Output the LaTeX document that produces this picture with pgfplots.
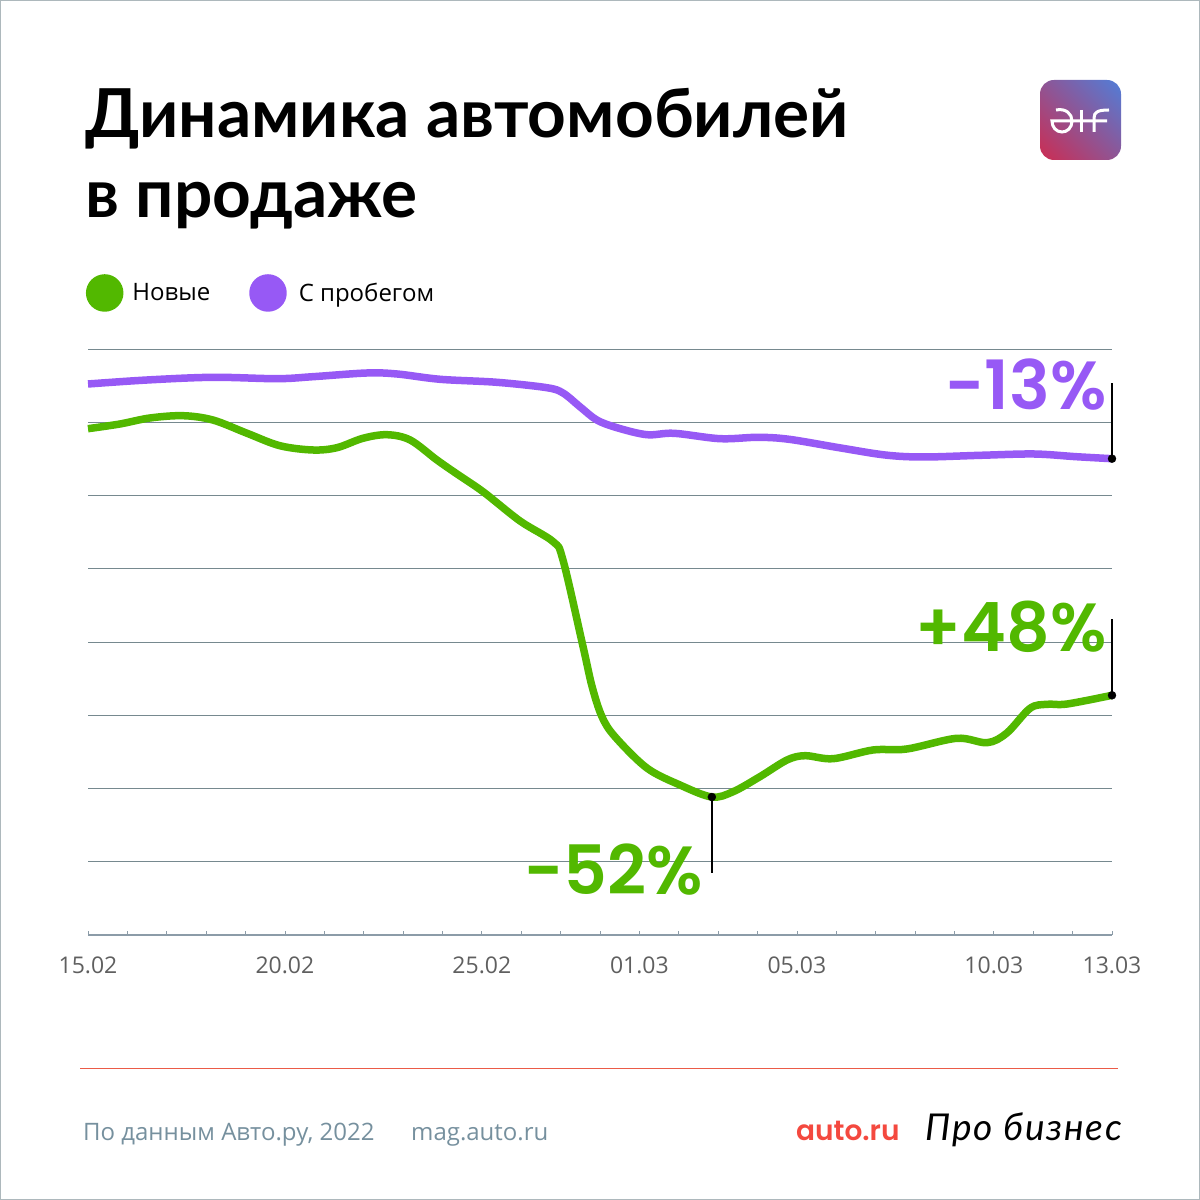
\documentclass[border=0pt]{standalone}
\usepackage{fontspec}
\usepackage{pgfplots}
\pgfplotsset{compat=1.18}
\usepackage{pgfplotstable}
\setmainfont{Open Sans}
\newfontfamily\titlef{Lato}
\newfontfamily\numf[BoldFont={Poppins SemiBold}]{Poppins}
\newfontfamily\geof[LetterSpace=5]{Lato}
\definecolor{gr}{HTML}{52B800}
\definecolor{pu}{HTML}{9759F5}
\definecolor{gridc}{HTML}{76898F}
\definecolor{axc}{HTML}{8C9CA8}
\definecolor{tickt}{HTML}{5F5F5F}
\definecolor{foot}{HTML}{76909E}
\definecolor{redl}{HTML}{EB5B48}
\definecolor{autor}{HTML}{F4493F}
\definecolor{logoa}{HTML}{D02A4E}
\definecolor{logob}{HTML}{B8408F}
\definecolor{logoc}{HTML}{4D80DC}
\pgfplotstableread{
day val
0 551
1.50 555
3.17 557.7
4.80 556.3
5.71 558.3
7.08 562
7.85 561
8.94 555.7
10.38 552.7
11.65 547.3
12.06 542
12.49 528.3
12.92 515
13.43 507.3
14.19 500.3
14.88 501.7
16.05 496.3
17.01 497.7
17.80 495.7
19.07 487.3
20.24 480
21.20 478
22.67 479.7
24.02 481
25.09 478.3
26 476.3
}\usedt
\pgfplotstableread{
day val
0 506.3
0.81 511
1.57 517
2.41 519.3
3.17 515
4.04 501.7
4.87 489.3
5.71 485
6.32 487.3
6.98 496.7
7.59 500.3
8.18 495
8.86 475
9.37 461
10.03 443.3
10.97 414
11.81 393.3
12.06 375
12.57 288.3
12.80 248.3
13.05 218.3
13.38 198.3
14.19 167
15.03 150
15.84 138
16.38 143.3
17.06 158.3
17.75 175
18.21 179.3
18.92 176.3
19.93 185
20.79 186
22.06 196.7
22.83 192.3
23.33 202
23.92 226.7
24.35 230.7
24.86 231
26 239.7
}\newdt
\begin{document}
\begin{tikzpicture}[x=1pt,y=1pt]
\path[use as bounding box] (0,0) rectangle (1200,1200);
\draw[color=gridc!60,line width=1.5pt] (0.5,0.5) rectangle (1199.5,1199.5);
% title
\node[anchor=base west,inner sep=0pt,text=black,font=\titlef\bfseries\fontsize{67.5}{67.5}\selectfont] at (85,1062) {Динамика автомобилей};
\node[anchor=base west,inner sep=0pt,text=black,font=\titlef\bfseries\fontsize{67.5}{67.5}\selectfont] at (85,982) {в продаже};
% logo
\begin{scope}
\clip[rounded corners=14pt] (1040,1040) rectangle (1121,1120);
\shade[left color=logoa,middle color=logob,right color=logoc,shading angle=135] (1020,1020) rectangle (1141,1140);
\end{scope}
\begin{scope}[draw=white,line width=3pt]
\draw (1056,1090) .. controls (1066,1092) and (1072,1086) .. (1072,1079) .. controls (1072,1072) and (1067,1068) .. (1062,1068) .. controls (1056,1068) and (1052,1073) .. (1052,1079) -- (1107,1079);
\draw (1081,1090) -- (1081,1068);
\draw (1094,1068) -- (1094,1082) .. controls (1094,1088) and (1098,1090) .. (1109,1090);
\end{scope}
\begin{axis}[
  at={(88pt,265pt)},anchor=south west,
  scale only axis,width=1024pt,height=586pt,
  xmin=0,xmax=26,ymin=0,ymax=586,
  clip=false,
  axis x line*=bottom,axis y line*=left,
  x axis line style={draw=axc,line width=1.2pt,-},
  y axis line style={draw=none},
  xtick={0,5,10,14,18,23,26},
  xticklabels={15.02,20.02,25.02,01.03,05.03,10.03,13.03},
  minor xtick={1,2,3,4,6,7,8,9,11,12,13,15,16,17,19,20,21,22,24,25},
  x tick style={draw=axc,line width=0.8pt},
  minor x tick style={draw=axc,line width=0.8pt},
  xtick align=inside,
  major tick length=3.5pt,minor tick length=3.5pt,
  y tick style={draw=none},
  x tick label style={font=\fontsize{23}{23}\selectfont,text=tickt,yshift=-18pt,anchor=north},
  ytick={0,73.25,146.5,219.75,293,366.25,439.5,512.75,586},
  yticklabels={},
  ymajorgrids,
  grid style={draw=gridc,line width=0.8pt},
  legend columns=2,
  legend style={at={(-0.002,1.0956)},anchor=west,draw=none,fill=none,inner sep=0pt,outer sep=0pt,
    font=\fontsize{24}{24}\selectfont,
    /tikz/every even column/.append style={column sep=37pt}},
  legend image code/.code={\fill[#1] (9pt,0) circle (15pt);},
  legend cell align=left,
]
\addplot[gr,line width=7.5pt,smooth,tension=0.55,line cap=butt,line join=round] table[x=day,y=val] {\newdt};
\addlegendentry{\hspace{7pt}Новые}
\addplot[pu,line width=7.5pt,smooth,tension=0.55,line cap=butt,line join=round] table[x=day,y=val] {\usedt};
\addlegendentry{\hspace{10pt}С пробегом}
\addplot[black,line width=2pt,forget plot] coordinates {(26,476.3) (26,552)};
\addplot[black,line width=2pt,forget plot] coordinates {(26,239.7) (26,316)};
\addplot[black,line width=2pt,forget plot] coordinates {(15.84,138) (15.84,62)};
\addplot[only marks,mark=*,mark size=4pt,black,forget plot] coordinates {(26,476.3) (26,239.7) (15.84,138)};
\node[anchor=base east,inner sep=0pt,text=pu,font=\numf\bfseries\fontsize{68}{68}\selectfont] at (axis cs:25.87,525) {-13\%};
\node[anchor=base east,inner sep=0pt,text=gr,font=\numf\bfseries\fontsize{68}{68}\selectfont] at (axis cs:25.87,283) {+48\%};
\node[anchor=base east,inner sep=0pt,text=gr,font=\numf\bfseries\fontsize{68}{68}\selectfont] at (axis cs:15.62,40) {-52\%};
\end{axis}
% footer
\draw[redl,line width=1pt] (80,131) -- (1118,131);
\node[anchor=base west,inner sep=0pt,text=foot,font=\fontsize{24}{24}\selectfont] at (83,59) {По данным Авто.ру, 2022};
\node[anchor=base west,inner sep=0pt,text=foot,font=\fontsize{24}{24}\selectfont] at (411,59) {mag.auto.ru};
\node[anchor=base west,inner sep=0pt,text=autor,font=\numf\bfseries\fontsize{28}{28}\selectfont] at (796,59) {auto.ru};
\node[anchor=base west,inner sep=0pt,text=black,font=\geof\itshape\fontsize{37}{37}\selectfont] at (925,59) {Про бизнес};
\end{tikzpicture}
\end{document}
